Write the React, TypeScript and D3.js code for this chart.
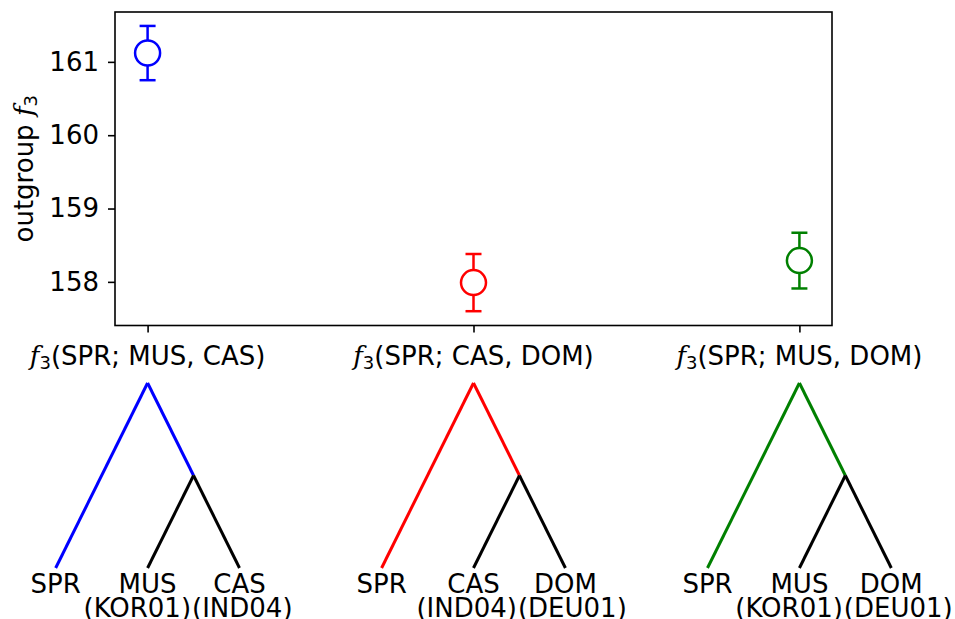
import React, { useRef, useEffect } from 'react';
import * as d3 from 'd3';

// f3 statistics, one entry per comparison
const comparisons = ['SPR; MUS, CAS', 'SPR; CAS, DOM', 'SPR; MUS, DOM'];
const f3Values = [161.12, 157.99, 158.29];
const f3Errors = [0.37, 0.39, 0.38];
const colors = ['#0000ff', '#ff0000', '#008000'];
const yTicks = [158, 159, 160, 161];

// tree leaves (left to right) under each comparison
const leafNames = [
  ['SPR', 'MUS', 'CAS'],
  ['SPR', 'CAS', 'DOM'],
  ['SPR', 'MUS', 'DOM'],
];
const leafSamples = [
  ['', '(KOR01)', '(IND04)'],
  ['', '(IND04)', '(DEU01)'],
  ['', '(KOR01)', '(DEU01)'],
];

const FONT = 'DejaVu Sans, sans-serif';
const FS = 26;

const App = () => {
  const ref = useRef(null);

  useEffect(() => {
    const svg = d3.select(ref.current);
    svg.selectAll('*').remove();

    const width = 955;
    const height = 619;
    const margin = { top: 12, right: 123, bottom: 294, left: 115 };
    const plotBottom = height - margin.bottom + 0.5;

    const x = d3.scaleLinear().domain([-0.1, 2.1]).range([margin.left, width - margin.right]);
    const y = d3.scaleLinear().domain([157.405, 161.68]).range([plotBottom, margin.top]);

    svg.attr('viewBox', `0 0 ${width} ${height}`);

    // error bars + markers
    const pts = svg.append('g');
    comparisons.forEach((c, i) => {
      const g = pts.append('g').attr('stroke', colors[i]).attr('stroke-width', 2.5).attr('fill', 'none');
      const cx = x(i);
      g.append('line').attr('x1', cx).attr('x2', cx).attr('y1', y(f3Values[i] - f3Errors[i])).attr('y2', y(f3Values[i] + f3Errors[i]));
      [-1, 1].forEach(s => {
        g.append('line').attr('x1', cx - 8).attr('x2', cx + 8)
          .attr('y1', y(f3Values[i] + s * f3Errors[i])).attr('y2', y(f3Values[i] + s * f3Errors[i]));
      });
      g.append('circle').attr('cx', cx).attr('cy', y(f3Values[i])).attr('r', 12.5).attr('fill', '#fff');
    });

    // frame
    svg.append('rect')
      .attr('x', margin.left).attr('y', margin.top)
      .attr('width', width - margin.right - margin.left).attr('height', plotBottom - margin.top)
      .attr('fill', 'none').attr('stroke', '#000').attr('stroke-width', 1.6);

    // y axis
    const yAxis = svg.append('g').attr('transform', `translate(${margin.left},0)`)
      .call(d3.axisLeft(y).tickValues(yTicks).tickSize(7).tickPadding(9).tickFormat(d3.format('d')));
    yAxis.select('.domain').remove();
    yAxis.selectAll('line').attr('stroke-width', 1.6);
    yAxis.selectAll('text').attr('font-family', FONT).attr('font-size', FS).attr('fill', '#000');

    // x ticks
    const xAxis = svg.append('g').attr('transform', `translate(0,${plotBottom})`)
      .call(d3.axisBottom(x).tickValues([0, 1, 2]).tickSize(7).tickFormat(() => ''));
    xAxis.select('.domain').remove();
    xAxis.selectAll('line').attr('stroke-width', 1.6);

    // category labels f3(...)
    comparisons.forEach((c, i) => {
      const t = svg.append('text').attr('x', x(i)).attr('y', 365).attr('text-anchor', 'middle')
        .attr('font-family', FONT).attr('font-size', FS).attr('fill', '#000');
      t.append('tspan').attr('font-family', 'DejaVu Serif, serif').attr('font-style', 'italic').text('f');
      t.append('tspan').attr('font-size', 18).attr('dy', 4).text('3');
      t.append('tspan').attr('dy', -4).text(`(${c})`);
    });

    // y label
    const yl = svg.append('text')
      .attr('transform', `translate(33,${(margin.top + plotBottom) / 2}) rotate(-90)`)
      .attr('text-anchor', 'middle').attr('font-family', FONT).attr('font-size', FS).attr('fill', '#000');
    yl.append('tspan').text('outgroup ');
    yl.append('tspan').attr('font-family', 'DejaVu Serif, serif').attr('font-style', 'italic').text('f');
    yl.append('tspan').attr('font-size', 18).attr('dy', 4).text('3');

    // trees
    const ty = d3.scaleLinear().domain([0, 2]).range([568, 383]);
    const spread = x(0) - x(-0.282);
    leafNames.forEach((names, i) => {
      const tx = d3.scaleLinear().domain([-1, 1]).range([x(i) - spread, x(i) + spread]);
      const g = svg.append('g').attr('stroke-width', 3).attr('fill', 'none');
      const seg = (a, b, col) => g.append('line')
        .attr('x1', tx(a[0])).attr('y1', ty(a[1])).attr('x2', tx(b[0])).attr('y2', ty(b[1])).attr('stroke', col);
      seg([0, 2], [-1, 0], colors[i]);
      seg([0, 2], [0.5, 1], colors[i]);
      seg([0.5, 1], [0, 0], '#000');
      seg([0.5, 1], [1, 0], '#000');

      // the two sample labels meet just left of the mid point between the sister leaves
      const joint = tx(0.5) - 2;
      names.forEach((n, j) => {
        const lx = tx(j - 1);
        svg.append('text').attr('x', lx).attr('y', 593).attr('text-anchor', 'middle')
          .attr('font-family', FONT).attr('font-size', FS).attr('fill', '#000').text(n);
        if (leafSamples[i][j]) {
          svg.append('text')
            .attr('x', j === 1 ? joint - 0.5 : joint + 0.5).attr('y', 617)
            .attr('text-anchor', j === 1 ? 'end' : 'start')
            .attr('font-family', FONT).attr('font-size', FS).attr('fill', '#000').text(leafSamples[i][j]);
        }
      });
    });
  }, []);

  return (
    <div style={{ position: 'absolute', left: 0, top: 0 }}>
      <svg ref={ref} width={955} height={619} style={{ display: 'block', background: '#fff' }} />
    </div>
  );
};

export default App;
